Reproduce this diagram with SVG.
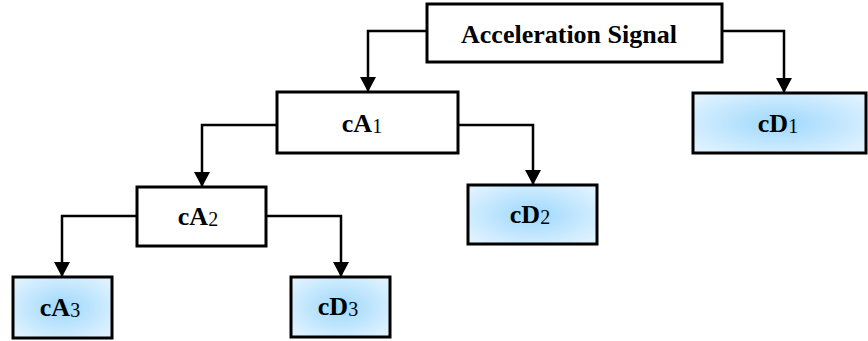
<svg xmlns="http://www.w3.org/2000/svg" width="868" height="341" viewBox="0 0 868 341">
  <style>
    .box { fill: #ffffff; stroke: #000000; stroke-width: 3; }
    .leaf { fill: url(#blueGlow); stroke: #000000; stroke-width: 3; }
    .lbl { font-family: "Liberation Serif", "Times New Roman", serif; font-weight: bold; font-size: 26px; fill: #000000; text-anchor: middle; }
    .sub { font-weight: normal; font-size: 20px; }
    .link { fill: none; stroke: #000000; stroke-width: 2.5; }
  </style>
  <defs>
    <radialGradient id="blueGlow" cx="50%" cy="50%" r="60%">
      <stop offset="0" stop-color="#9dd8fc"/>
      <stop offset="1" stop-color="#ddf1ff"/>
    </radialGradient>
    <marker id="arrow" markerUnits="userSpaceOnUse" markerWidth="16" markerHeight="16" viewBox="0 0 16 16" refX="15" refY="8" orient="auto">
      <path d="M0,0 L15,8 L0,16 z" fill="#000000"/>
    </marker>
  </defs>

  <g id="connectors">
    <path class="link" d="M427,31 H368 V92" marker-end="url(#arrow)"/>
    <path class="link" d="M722,31 H784 V93" marker-end="url(#arrow)"/>
    <path class="link" d="M277,125 H202 V187" marker-end="url(#arrow)"/>
    <path class="link" d="M458,125 H533 V185" marker-end="url(#arrow)"/>
    <path class="link" d="M137,216 H62 V277" marker-end="url(#arrow)"/>
    <path class="link" d="M266,216 H341 V277" marker-end="url(#arrow)"/>
  </g>

  <g id="signal">
    <rect class="box" x="427" y="4" width="295" height="58"/>
    <text class="lbl" x="569" y="43">Acceleration Signal</text>
  </g>

  <g id="cA1">
    <rect class="box" x="277" y="92" width="181" height="61"/>
    <text class="lbl" x="362" y="132">cA<tspan class="sub" dy="1">1</tspan></text>
  </g>

  <g id="cD1">
    <rect class="leaf" x="693" y="93" width="173" height="60"/>
    <text class="lbl" x="778" y="132">cD<tspan class="sub" dy="1">1</tspan></text>
  </g>

  <g id="cA2">
    <rect class="box" x="137" y="187" width="129" height="59"/>
    <text class="lbl" x="198" y="225">cA<tspan class="sub" dy="1">2</tspan></text>
  </g>

  <g id="cD2">
    <rect class="leaf" x="468" y="185" width="129" height="59"/>
    <text class="lbl" x="530" y="223">cD<tspan class="sub" dy="1">2</tspan></text>
  </g>

  <g id="cA3">
    <rect class="leaf" x="13" y="277" width="99" height="61"/>
    <text class="lbl" x="60" y="316">cA<tspan class="sub" dy="1">3</tspan></text>
  </g>

  <g id="cD3">
    <rect class="leaf" x="291" y="277" width="99" height="60"/>
    <text class="lbl" x="338" y="315">cD<tspan class="sub" dy="1">3</tspan></text>
  </g>
</svg>
